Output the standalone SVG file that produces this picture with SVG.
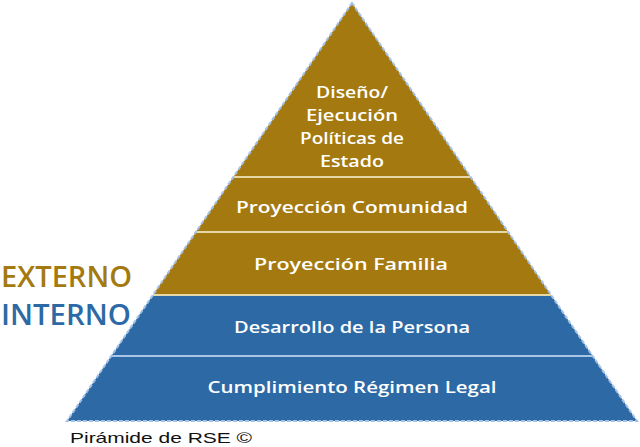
<svg xmlns="http://www.w3.org/2000/svg" width="640" height="447" viewBox="0 0 640 447">
<style>
.gold{fill:#A47A10}
.blue{fill:#2D6AA5}
.lbl{font-family:"Open Sans","DejaVu Sans",sans-serif;font-weight:600;font-size:16.5px;fill:#ffffff;text-anchor:middle}
.sepg{stroke:#E6D7A6;stroke-width:2}
.sepb{stroke:#A9C6E6;stroke-width:2}
.side{font-family:"Open Sans","DejaVu Sans",sans-serif;font-weight:600;font-size:29px}
</style>
<rect width="640" height="447" fill="#ffffff"/>
<g id="pyramid">
<polygon class="gold" points="352,3 551.1,295 152.9,295"/>
<polygon class="blue" points="152.9,295 551.1,295 637,421 67,421"/>
<line class="sepg" x1="233.3" y1="177" x2="470.7" y2="177"/>
<line class="sepg" x1="195.8" y1="232" x2="508.2" y2="232"/>
<line class="sepg" x1="153" y1="295" x2="551" y2="295"/>
<line class="sepb" x1="111.3" y1="356" x2="592.7" y2="356"/>
<polygon points="352,3 637,421 67,421" fill="none" stroke="#A3C1E6" stroke-width="2" stroke-dasharray="4 2"/>
</g>
<g id="n1">
<text class="lbl" x="352" y="98" textLength="72" lengthAdjust="spacingAndGlyphs">Diseño/</text>
<text class="lbl" x="352" y="121" textLength="92" lengthAdjust="spacingAndGlyphs">Ejecución</text>
<text class="lbl" x="352" y="144" textLength="104" lengthAdjust="spacingAndGlyphs">Políticas de</text>
<text class="lbl" x="352" y="167" textLength="64" lengthAdjust="spacingAndGlyphs">Estado</text>
</g>
<g id="n2"><text class="lbl" x="352" y="213" textLength="232" lengthAdjust="spacingAndGlyphs">Proyección Comunidad</text></g>
<g id="n3"><text class="lbl" x="351" y="270" textLength="194" lengthAdjust="spacingAndGlyphs">Proyección Familia</text></g>
<g id="n4"><text class="lbl" x="352" y="333" textLength="236" lengthAdjust="spacingAndGlyphs">Desarrollo de la Persona</text></g>
<g id="n5"><text class="lbl" x="352" y="393" textLength="289" lengthAdjust="spacingAndGlyphs">Cumplimiento Régimen Legal</text></g>
<g id="externo"><text class="side" x="1" y="287" fill="#A47A10" textLength="131" lengthAdjust="spacingAndGlyphs">EXTERNO</text></g>
<g id="interno"><text class="side" x="1" y="325" fill="#2D6AA5" textLength="130" lengthAdjust="spacingAndGlyphs">INTERNO</text></g>
<g id="caption"><text x="70" y="443" font-family="Liberation Sans, Arial, sans-serif" font-size="15" fill="#111111" textLength="182" lengthAdjust="spacingAndGlyphs">Pirámide de RSE ©</text></g>
</svg>
